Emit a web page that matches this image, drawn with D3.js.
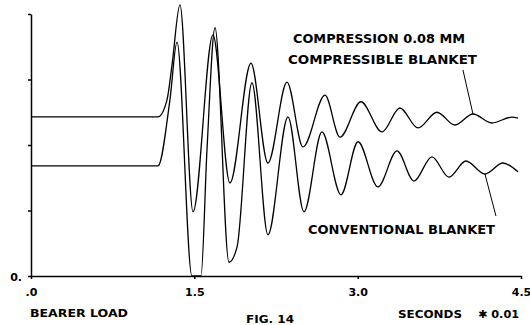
<!DOCTYPE html>
<html>
<head>
<meta charset="utf-8">
<script src="https://cdn.jsdelivr.net/npm/d3@7"></script>
<style>
  body { margin: 0; background: #fff; }
  svg { display: block; }
  .axis path, .axis line { stroke: #000; stroke-width: 1.5; }
  .axis text { font-family: "DejaVu Sans", sans-serif; font-weight: bold; font-size: 11px; fill: #000; }
  .lbl { font-family: "DejaVu Sans", sans-serif; font-weight: bold; fill: #000; }
  .curve { fill: none; stroke: #000; stroke-width: 1.3; }
</style>
</head>
<body>
<script>
// time in seconds * 0.01, amplitude in plot units
var xTicks = [0, 1.5, 3.0, 4.5],
    xTickLabels = [".0", "1.5", "3.0", "4.5"],
    yTicks = [0, 1, 2, 3, 4],
    yTickLabels = ["0.", "", "", "", ""];

// compressible blanket (upper trace)
var compT = [0, 1.166, 1.249, 1.295, 1.368, 1.488, 1.671, 1.827, 2.02, 2.176, 2.351, 2.498, 2.70, 2.837, 3.03, 3.223, 3.388, 3.554, 3.728, 3.893, 4.059, 4.233, 4.417, 4.472];
var compV = [2.43, 2.43, 2.69, 3.22, 4.14, 0.98, 3.68, 1.42, 3.25, 1.725, 2.96, 1.97, 2.76, 2.12, 2.66, 2.20, 2.565, 2.26, 2.50, 2.305, 2.473, 2.336, 2.427, 2.41];

// conventional blanket (lower trace)
var convT = [0, 1.166, 1.276, 1.341, 1.478, 1.561, 1.616, 1.69, 1.818, 1.892, 2.029, 2.176, 2.36, 2.507, 2.672, 2.847, 3.003, 3.186, 3.361, 3.517, 3.682, 3.838, 3.994, 4.169, 4.334, 4.472];
var convV = [1.68, 1.68, 2.69, 3.57, 0, 0, 1.92, 3.79, 0.21, 0.44, 2.95, 0.63, 2.43, 0.98, 2.20, 1.24, 2.05, 1.36, 1.91, 1.45, 1.82, 1.51, 1.756, 1.557, 1.725, 1.59];

var w = 530, h = 325;
var svg = d3.select("body").append("svg").attr("width", w).attr("height", h);

var x = d3.scaleLinear().domain([0, 4.5]).range([31, 521]);
var y = d3.scaleLinear().domain([0, 4]).range([276, 14]);

var line = d3.line()
  .x(d => x(d[0]))
  .y(d => y(d[1]))
  .curve(d3.curveMonotoneX);

var comp = compT.map((t, i) => [t, compV[i]]);
var conv = convT.map((t, i) => [t, convV[i]]);

svg.append("path").attr("class", "curve").attr("d", line(comp));
svg.append("path").attr("class", "curve").attr("d", line(conv));

// axes
var xAxis = d3.axisBottom(x).tickValues(xTicks)
  .tickFormat((d, i) => xTickLabels[i]).tickSize(3).tickSizeOuter(0);
var gx = svg.append("g").attr("class", "axis")
  .attr("transform", `translate(0, ${y(0)})`).call(xAxis);
gx.selectAll("text").attr("dy", "1.3em");

var yAxis = d3.axisLeft(y).tickValues(yTicks)
  .tickFormat((d, i) => yTickLabels[i]).tickSize(3).tickSizeOuter(0);
var gy = svg.append("g").attr("class", "axis")
  .attr("transform", `translate(${x(0)}, 0)`).call(yAxis);
gy.select(".domain").attr("stroke-width", 1.1);
gy.selectAll("text").attr("x", -9).attr("dy", "0.45em");

// leader lines from the traces to their labels
var pc = comp[20], pv = conv[23];
svg.append("line").attr("stroke", "#000").attr("stroke-width", 1)
  .attr("x1", x(pc[0])).attr("y1", y(pc[1]))
  .attr("x2", x(pc[0]) - 10).attr("y2", y(pc[1]) - 44);
svg.append("line").attr("stroke", "#000").attr("stroke-width", 1)
  .attr("x1", x(pv[0])).attr("y1", y(pv[1]))
  .attr("x2", x(pv[0]) + 11).attr("y2", y(pv[1]) + 42);

// labels
function label(txt, lx, ly, len, size) {
  svg.append("text").attr("class", "lbl")
    .attr("x", lx).attr("y", ly)
    .attr("font-size", size)
    .attr("textLength", len).attr("lengthAdjust", "spacingAndGlyphs")
    .text(txt);
}
label("COMPRESSION 0.08 MM", 293, 43, 172, 12);
label("COMPRESSIBLE BLANKET", 288, 64, 189, 12);
label("CONVENTIONAL BLANKET", 308, 234, 187, 12);
label("BEARER LOAD", 30, 317, 98, 11);
label("SECONDS", 398, 318, 64, 11);
label("\u2731 0.01", 478, 318, 41, 11);
label("FIG. 14", 246, 323, 48, 11);
</script>
</body>
</html>
